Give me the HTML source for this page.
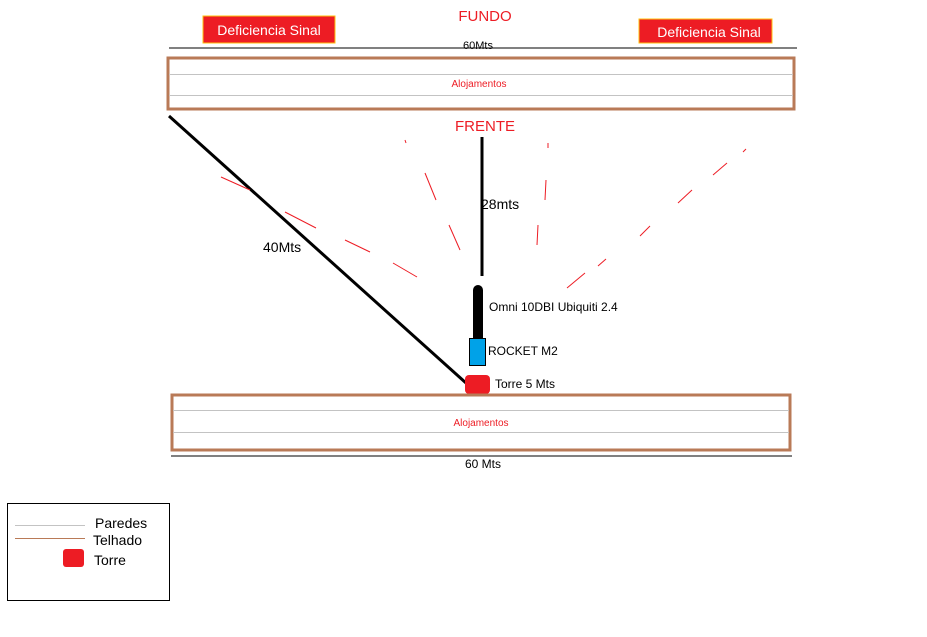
<!DOCTYPE html>
<html><head><style>body{margin:0;background:#fff}svg{display:block}text{font-family:"Liberation Sans",sans-serif}</style></head><body>
<svg width="927" height="637" viewBox="0 0 927 637" xmlns="http://www.w3.org/2000/svg">
<rect width="927" height="637" fill="#fff"/>
<rect x="203" y="16" width="132" height="27" fill="#ed1c24" stroke="#ffc20e" stroke-width="1"/>
<text x="269" y="35" font-size="14" fill="#fff" text-anchor="middle">Deficiencia Sinal</text>
<rect x="639" y="19" width="133" height="24" fill="#ed1c24" stroke="#ffc20e" stroke-width="1"/>
<text x="709" y="37" font-size="14" fill="#fff" text-anchor="middle">Deficiencia Sinal</text>
<text x="485" y="21" font-size="15" fill="#ed1c24" text-anchor="middle">FUNDO</text>
<text x="478" y="49" font-size="11" fill="#000" text-anchor="middle">60Mts</text>
<line x1="169" y1="48" x2="797" y2="48" stroke="#000" stroke-width="1"/>
<rect x="168" y="58" width="626" height="51" fill="#fff" stroke="#b97a57" stroke-width="3"/>
<line x1="169" y1="74.5" x2="793" y2="74.5" stroke="#c3c3c3"/>
<line x1="169" y1="95.5" x2="793" y2="95.5" stroke="#c3c3c3"/>
<text x="479" y="87" font-size="10" fill="#ed1c24" text-anchor="middle">Alojamentos</text>
<text x="485" y="131" font-size="15" fill="#ed1c24" text-anchor="middle">FRENTE</text>
<line x1="169" y1="116" x2="466" y2="383" stroke="#000" stroke-width="3"/>
<line x1="482" y1="137" x2="482" y2="276" stroke="#000" stroke-width="3"/>
<text x="481" y="209" font-size="14" fill="#000">28mts</text>
<text x="263" y="252" font-size="14" fill="#000">40Mts</text>
<g stroke="#ed1c24" stroke-width="1">
<line x1="221" y1="177" x2="250" y2="190"/><line x1="285" y1="212" x2="316" y2="228"/><line x1="345" y1="240" x2="370" y2="252"/><line x1="393" y1="263" x2="417" y2="277"/>
<line x1="405" y1="140" x2="406" y2="143"/><line x1="425" y1="173" x2="436" y2="200"/><line x1="449" y1="225" x2="460" y2="250"/>
<line x1="548" y1="143" x2="548" y2="148"/><line x1="546" y1="180" x2="545" y2="200"/><line x1="538" y1="225" x2="537" y2="245"/>
<line x1="746" y1="149" x2="743" y2="152"/><line x1="727" y1="163" x2="713" y2="175"/><line x1="692" y1="190" x2="678" y2="203"/><line x1="650" y1="226" x2="640" y2="236"/><line x1="606" y1="259" x2="598" y2="266"/><line x1="585" y1="273" x2="567" y2="288"/>
</g>
<line x1="478" y1="290" x2="478" y2="340" stroke="#000" stroke-width="10" stroke-linecap="round"/>
<rect x="469.5" y="338.5" width="16" height="27" fill="#00a2e8" stroke="#000"/>
<rect x="465" y="375" width="25" height="19" rx="4" fill="#ed1c24"/>
<text x="489" y="311" font-size="12" fill="#000">Omni 10DBI Ubiquiti 2.4</text>
<text x="488" y="355" font-size="12" fill="#000">ROCKET M2</text>
<text x="495" y="388" font-size="12" fill="#000">Torre 5 Mts</text>
<rect x="172" y="395" width="618" height="55" fill="none" stroke="#b97a57" stroke-width="3"/>
<line x1="173" y1="410.5" x2="789" y2="410.5" stroke="#c3c3c3"/>
<line x1="173" y1="432.5" x2="789" y2="432.5" stroke="#c3c3c3"/>
<text x="481" y="426" font-size="10" fill="#ed1c24" text-anchor="middle">Alojamentos</text>
<line x1="171" y1="456" x2="792" y2="456" stroke="#000"/>
<text x="483" y="468" font-size="12" fill="#000" text-anchor="middle">60 Mts</text>
<rect x="7.5" y="503.5" width="162" height="97" fill="#fff" stroke="#000"/>
<line x1="15" y1="525.5" x2="85" y2="525.5" stroke="#c3c3c3"/>
<line x1="15" y1="538.5" x2="85" y2="538.5" stroke="#b97a57"/>
<rect x="63" y="549" width="21" height="18" rx="3" fill="#ed1c24"/>
<text x="95" y="528" font-size="14" fill="#000">Paredes</text>
<text x="93" y="545" font-size="14" fill="#000">Telhado</text>
<text x="94" y="565" font-size="14" fill="#000">Torre</text>
</svg>
</body></html>
